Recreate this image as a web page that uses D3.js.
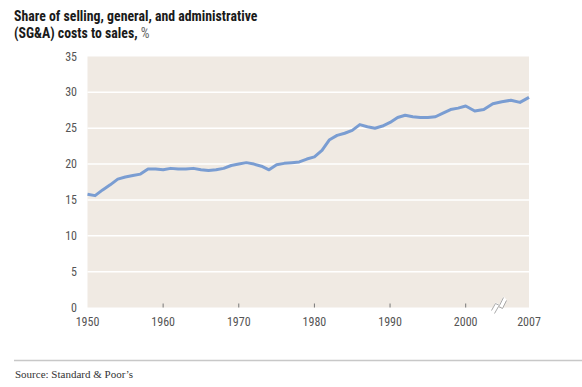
<!DOCTYPE html>
<html>
<head>
<meta charset="utf-8">
<script src="https://cdn.jsdelivr.net/npm/d3@7"></script>
<style>
  body { margin: 0; background: #fff; }
  svg text { font-family: "Liberation Sans Narrow", "Roboto Condensed", "Arial Narrow", sans-serif; }
</style>
</head>
<body>
<svg width="582" height="387"></svg>
<script>
// SG&A share of sales, %
const years  = d3.range(1950, 2008);
const values = [15.8, 15.6, 16.4, 17.1, 17.9, 18.2, 18.4, 18.6, 19.3, 19.3,
                19.2, 19.4, 19.3, 19.3, 19.4, 19.2, 19.1, 19.2, 19.4, 19.8,
                20.0, 20.2, 20.0, 19.7, 19.2, 19.9, 20.1, 20.2, 20.3, 20.7,
                21.0, 21.9, 23.4, 24.0, 24.3, 24.7, 25.5, 25.2, 25.0, 25.3,
                25.8, 26.5, 26.8, 26.6, 26.5, 26.5, 26.6, 27.1, 27.6, 27.8,
                28.1, 27.4, 27.6, 28.4, 28.7, 28.9, 28.6, 29.3];
const yTicks = [0, 5, 10, 15, 20, 25, 30, 35];
const xTicks = [1950, 1960, 1970, 1980, 1990, 2000, 2007];

const svg = d3.select("svg");

const plot = {left: 87.5, right: 529, top: 56.5, bottom: 307.5};

// axis is broken after 2000, so the last stretch is stretched a bit
const x = d3.scaleLinear()
  .domain([1950, 2000, 2007])
  .range([plot.left, 465.7, plot.right]);

const y = d3.scaleLinear()
  .domain([0, 35])
  .range([plot.bottom, plot.top]);

// title
const title = svg.append("text")
  .attr("x", 14)
  .attr("y", 21)
  .style("font-size", "13.8px")
  .style("font-weight", "bold")
  .style("fill", "#1a1a1a");
title.append("tspan").attr("x", 14).text("Share of selling, general, and administrative");
title.append("tspan").attr("x", 14).attr("dy", 17).text("(SG&A) costs to sales, ");
title.append("tspan").style("font-weight", "normal").style("fill", "#666").text("%");

// background
svg.append("rect")
  .attr("x", plot.left)
  .attr("y", plot.top)
  .attr("width", plot.right - plot.left)
  .attr("height", plot.bottom - plot.top)
  .style("fill", "#f0eae3");

// gridlines
svg.append("g")
  .selectAll("line")
  .data(yTicks.filter(d => d > 0 && d < 35))
  .enter()
  .append("line")
  .attr("x1", plot.left)
  .attr("x2", plot.right)
  .attr("y1", d => y(d))
  .attr("y2", d => y(d))
  .style("stroke", "#fff")
  .style("stroke-width", 1.5);

// y labels
svg.append("g")
  .selectAll("text")
  .data(yTicks)
  .enter()
  .append("text")
  .attr("x", 77)
  .attr("y", d => y(d) + 4)
  .attr("text-anchor", "end")
  .style("font-size", "12px")
  .style("fill", "#555")
  .text(d => d);

// x ticks (inside the plot)
svg.append("g")
  .selectAll("line")
  .data(xTicks.filter(d => d > 1950 && d < 2007))
  .enter()
  .append("line")
  .attr("x1", d => x(d))
  .attr("x2", d => x(d))
  .attr("y1", plot.bottom - 4)
  .attr("y2", plot.bottom)
  .style("stroke", "#777")
  .style("stroke-width", 1);

// x labels
svg.append("g")
  .selectAll("text")
  .data(xTicks)
  .enter()
  .append("text")
  .attr("x", d => x(d))
  .attr("y", 326)
  .attr("text-anchor", "middle")
  .style("font-size", "12px")
  .style("fill", "#555")
  .text(d => d);

// the line
const line = d3.line()
  .x((d, i) => x(years[i]))
  .y(d => y(d));

svg.append("path")
  .datum(values)
  .attr("d", line)
  .style("fill", "none")
  .style("stroke", "#7a9dd2")
  .style("stroke-width", 3)
  .style("stroke-linejoin", "round");

// axis break mark
const bx = 498.5, by = 303.5;
const zig = d3.line()([[-6, 7], [-2, 0], [2, 2], [6, -6]]);
const brk = svg.append("g").attr("transform", `translate(${bx},${by})`);
brk.append("path")
  .attr("d", d3.line()([[-7, 7], [-3, -1], [1, 1], [5, -7], [8, -4], [4, 4], [0, 2], [-4, 10]]))
  .style("fill", "#fff");
brk.append("path")
  .attr("d", zig)
  .attr("transform", "translate(-1,0)")
  .style("fill", "none")
  .style("stroke", "#aaa")
  .style("stroke-width", 1);
brk.append("path")
  .attr("d", zig)
  .attr("transform", "translate(2,3)")
  .style("fill", "none")
  .style("stroke", "#aaa")
  .style("stroke-width", 1);

// source rule and note
svg.append("line")
  .attr("x1", 14)
  .attr("x2", 582)
  .attr("y1", 360.5)
  .attr("y2", 360.5)
  .style("stroke", "#c8c8c8")
  .style("stroke-width", 1.5);

svg.append("text")
  .attr("x", 15)
  .attr("y", 378)
  .style("font-family", "'Liberation Serif', 'DejaVu Serif', serif")
  .style("font-size", "11px")
  .style("fill", "#333")
  .text("Source: Standard & Poor\u2019s");
</script>
</body>
</html>
